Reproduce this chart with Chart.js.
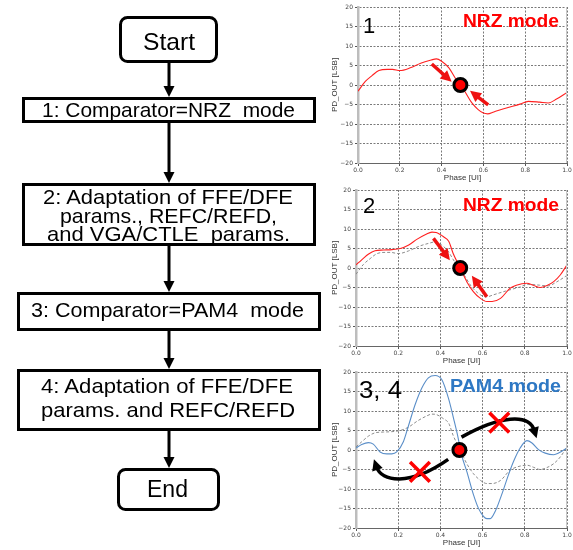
<!DOCTYPE html>
<html><head><meta charset="utf-8">
<script src="https://cdn.jsdelivr.net/npm/chart.js@4.4.1/dist/chart.umd.min.js"></script>
<style>
html,body{margin:0;padding:0;background:#fff;overflow:hidden;width:573px;height:550px;}
canvas{position:absolute;}
svg{position:absolute;left:0;top:0;}
svg text{font-family:"Liberation Sans",Arial,sans-serif;white-space:pre;}
</style></head>
<body>
<canvas id="c1" width="253" height="185" style="left:320px;top:0px"></canvas>
<canvas id="c2" width="253" height="185" style="left:320px;top:183px"></canvas>
<canvas id="c3" width="253" height="185" style="left:320px;top:365px"></canvas>
<svg width="573" height="550" xmlns="http://www.w3.org/2000/svg">
  <g fill="none" stroke="#000" stroke-width="3">
    <rect x="120.5" y="17.5" width="96" height="44" rx="7"/>
    <rect x="23.5" y="98.5" width="291" height="23"/>
    <rect x="23.5" y="184.5" width="291" height="60"/>
    <rect x="18.5" y="293.5" width="301" height="36"/>
    <rect x="18.5" y="370.5" width="301" height="59"/>
    <rect x="118.5" y="469.5" width="100" height="40" rx="7"/>
    <line x1="169" y1="63" x2="169" y2="89"/>
    <line x1="169" y1="123" x2="169" y2="175"/>
    <line x1="169" y1="246" x2="169" y2="284"/>
    <line x1="169" y1="331" x2="169" y2="361"/>
    <line x1="169" y1="431" x2="169" y2="460"/>
  </g>
  <g fill="#000">
    <polygon points="163.5,86 174.5,86 169,97"/>
    <polygon points="163.5,172 174.5,172 169,183"/>
    <polygon points="163.5,281 174.5,281 169,292"/>
    <polygon points="163.5,358 174.5,358 169,369"/>
    <polygon points="163.5,457 174.5,457 169,468"/>
  </g>
  <g fill="#000" text-anchor="middle" font-size="21">
    <text x="169" y="50" font-size="24" textLength="52" lengthAdjust="spacingAndGlyphs">Start</text>
    <text x="168.5" y="116.5" textLength="253" lengthAdjust="spacingAndGlyphs">1: Comparator=NRZ  mode</text>
    <text x="168" y="204" textLength="250" lengthAdjust="spacingAndGlyphs">2: Adaptation of FFE/DFE</text>
    <text x="168.5" y="222.5" textLength="217" lengthAdjust="spacingAndGlyphs">params., REFC/REFD,</text>
    <text x="168.5" y="241" textLength="243" lengthAdjust="spacingAndGlyphs">and VGA/CTLE  params.</text>
    <text x="167.5" y="317" textLength="273" lengthAdjust="spacingAndGlyphs">3: Comparator=PAM4  mode</text>
    <text x="167" y="393" textLength="252" lengthAdjust="spacingAndGlyphs">4: Adaptation of FFE/DFE</text>
    <text x="168" y="416.5" textLength="254" lengthAdjust="spacingAndGlyphs">params. and REFC/REFD</text>
    <text x="167.5" y="497" font-size="23" textLength="41" lengthAdjust="spacingAndGlyphs">End</text>
  </g>
  <g>
    <text x="363" y="33" font-size="22" fill="#000">1</text>
    <text x="463" y="26.5" font-size="19" font-weight="bold" fill="#ff0000" textLength="96" lengthAdjust="spacingAndGlyphs">NRZ mode</text>
    <text x="363" y="213" font-size="22" fill="#000">2</text>
    <text x="463" y="210.5" font-size="19" font-weight="bold" fill="#ff0000" textLength="96" lengthAdjust="spacingAndGlyphs">NRZ mode</text>
    <text x="359" y="398" font-size="24" fill="#000" textLength="43" lengthAdjust="spacingAndGlyphs">3, 4</text>
    <text x="450" y="392" font-size="19" font-weight="bold" fill="#2e78c4" textLength="111" lengthAdjust="spacingAndGlyphs">PAM4 mode</text>
  </g>
</svg>
<script>
// ---------- data ----------
const xTicks = [0, 0.2, 0.4, 0.6, 0.8, 1.0];
const yTicks = [-20, -15, -10, -5, 0, 5, 10, 15, 20];

// step 1: initial NRZ phase-detector output
const phaseInit = [0, 0.035, 0.067, 0.1, 0.14, 0.165, 0.2, 0.25, 0.3, 0.35, 0.375, 0.4, 0.435, 0.465, 0.49, 0.515, 0.545, 0.575, 0.6, 0.62, 0.65, 0.71, 0.775, 0.815, 0.87, 0.91, 0.95, 1.0];
const pdInit    = [-1.6, 0.9, 2.4, 3.7, 4.0, 4.0, 3.7, 4.4, 5.6, 6.4, 6.7, 6.1, 4.4, 1.8, 0, -2.0, -4.6, -6.3, -7.2, -7.4, -6.9, -5.9, -4.9, -4.2, -4.4, -4.6, -3.6, -1.9];

// step 2: NRZ after adaptation
const phaseNrz = [0, 0.027, 0.06, 0.09, 0.13, 0.17, 0.21, 0.25, 0.29, 0.33, 0.36, 0.38, 0.415, 0.44, 0.46, 0.494, 0.525, 0.557, 0.59, 0.62, 0.645, 0.685, 0.73, 0.76, 0.81, 0.84, 0.873, 0.905, 0.937, 0.968, 1.0];
const pdNrz    = [0.8, 2.1, 3.6, 4.4, 4.6, 4.7, 5.0, 5.9, 7.4, 8.6, 9.2, 9.1, 8.0, 6.8, 3.8, 0, -3.5, -6.1, -7.8, -8.6, -8.6, -7.8, -5.2, -4.4, -3.9, -4.4, -5.0, -4.5, -3.5, -1.8, 0.8];

// steps 3,4: PAM4 mode
const phasePam4 = [0, 0.027, 0.059, 0.082, 0.114, 0.146, 0.17, 0.193, 0.225, 0.248, 0.28, 0.312, 0.343, 0.375, 0.407, 0.438, 0.462, 0.481, 0.5, 0.525, 0.557, 0.58, 0.604, 0.62, 0.636, 0.66, 0.69, 0.723, 0.747, 0.778, 0.81, 0.834, 0.865, 0.897, 0.937, 0.96, 1.0];
const pdPam4    = [0.5, 1.4, 1.9, 1.5, -0.5, -1.0, -1.0, -0.5, 2.2, 6.1, 11.6, 15.9, 18.5, 19.1, 18.0, 13.3, 8.2, 3.9, -1.2, -5.5, -11.5, -14.9, -17.0, -17.6, -17.6, -15.7, -11.5, -6.3, -2.9, 0.5, 2.4, 1.8, 0.1, -0.8, -1.2, -0.8, 0.5];

// lock points (phase, PD_OUT)
const lock1 = [0.49, 0];
const lock2 = [0.494, 0];
const lock3 = [0.49, 0];

// failed-direction marks in PAM4 mode
const failPhase = [0.303, 0.679];
const failPd    = [-5.6, 7.0];

// annotation arrows (data coordinates: [phase, PD_OUT])
const arrows1 = [[[0.353, 5.4], [0.448, 0.85]], [[0.623, -5.1], [0.536, -1.5]]];
const arrows2 = [[[0.367, 7.6], [0.445, 2.0]], [[0.62, -7.35], [0.549, -2.0]]];
const curves3 = [
  [[0.437, -2.4], [0.25, -9.5], [0.12, -8.0], [0.085, -2.4]],
  [[0.50, 3.3], [0.68, 8.8], [0.82, 9.5], [0.856, 3.0]]
];

// ---------- helpers ----------
const pts = (xs, ys) => xs.map((x, i) => ({x: x, y: ys[i]}));

function head(ctx, x, y, ang, color) {
  const L = 11, W = 5.5;
  ctx.save();
  ctx.fillStyle = color;
  ctx.translate(x, y); ctx.rotate(ang);
  ctx.beginPath(); ctx.moveTo(0, 0); ctx.lineTo(-L, -W); ctx.lineTo(-L, W); ctx.closePath(); ctx.fill();
  ctx.restore();
}

const annotPlugin = {
  id: 'annot',
  afterDatasetDraw(chart, args, opts) {
    if (args.index !== opts.after) return;
    const ctx = chart.ctx, xs = chart.scales.x, ys = chart.scales.y;
    const P = p => [xs.getPixelForValue(p[0]), ys.getPixelForValue(p[1])];
    ctx.save();
    ctx.lineCap = 'butt';
    (opts.straight || []).forEach(a => {
      const [x0, y0] = P(a[0]), [x1, y1] = P(a[1]);
      const ang = Math.atan2(y1 - y0, x1 - x0);
      ctx.strokeStyle = opts.color; ctx.lineWidth = 3.5;
      ctx.beginPath(); ctx.moveTo(x0, y0);
      ctx.lineTo(x1 - 9 * Math.cos(ang), y1 - 9 * Math.sin(ang)); ctx.stroke();
      head(ctx, x1, y1, ang, opts.color);
    });
    (opts.curved || []).forEach(c => {
      const q = c.map(P);
      const ang = Math.atan2(q[3][1] - q[2][1], q[3][0] - q[2][0]);
      const ex = q[3][0] - 8 * Math.cos(ang), ey = q[3][1] - 8 * Math.sin(ang);
      ctx.strokeStyle = opts.color; ctx.lineWidth = 3.5;
      ctx.beginPath(); ctx.moveTo(q[0][0], q[0][1]);
      ctx.bezierCurveTo(q[1][0], q[1][1], q[2][0], q[2][1], ex, ey); ctx.stroke();
      head(ctx, q[3][0], q[3][1], ang, opts.color);
    });
    ctx.restore();
  },
  afterDraw(chart) {
    const a = chart.chartArea, ctx = chart.ctx;
    ctx.save(); ctx.strokeStyle = '#c8c8c8'; ctx.lineWidth = 1;
    ctx.beginPath(); ctx.moveTo(a.right - 0.5, a.top); ctx.lineTo(a.right - 0.5, a.bottom); ctx.stroke();
    ctx.restore();
  }
};

function makeChart(id, yWidth, datasets, annot) {
  return new Chart(document.getElementById(id), {
    type: 'line',
    data: { datasets: datasets },
    plugins: [annotPlugin],
    options: {
      responsive: false, animation: false, devicePixelRatio: 1,
      layout: { autoPadding: false, padding: { top: 7, right: 6, left: 0, bottom: 0 } },
      plugins: { legend: { display: false }, tooltip: { enabled: false }, annot: annot },
      elements: { point: { radius: 0 } },
      scales: {
        x: {
          type: 'linear', min: 0, max: 1,
          afterBuildTicks: s => { s.ticks = xTicks.map(v => ({ value: v })); },
          afterFit: s => { s.height = 22; s.paddingLeft = 0; s.paddingRight = 0; },
          ticks: { callback: v => v.toFixed(1), font: { family: 'DejaVu Sans', size: 6 }, color: '#444', padding: 1, maxRotation: 0, autoSkip: false },
          grid: { color: '#7a7a7a', lineWidth: 1, drawTicks: true, tickLength: 3, tickColor: '#555' },
          border: { display: true, color: '#666', width: 1, dash: [2, 1.5] },
          title: { display: true, text: 'Phase [UI]', font: { family: 'Liberation Sans', size: 8 }, color: '#333', padding: { top: 0, bottom: 2 } }
        },
        y: {
          type: 'linear', min: -20, max: 20,
          afterBuildTicks: s => { s.ticks = yTicks.map(v => ({ value: v })); },
          afterFit: s => { s.width = yWidth; },
          ticks: { callback: v => (v < 0 ? '\u2212' + Math.abs(v) : String(v)), font: { family: 'DejaVu Sans', size: 6 }, color: '#444', padding: 2, autoSkip: false },
          grid: { color: '#7a7a7a', lineWidth: 1, drawTicks: true, tickLength: 3, tickColor: '#555' },
          border: { display: true, color: '#bdbdbd', width: 2.5, dash: [2, 1.5] },
          title: { display: true, text: 'PD_OUT [LSB]', font: { family: 'Liberation Sans', size: 8 }, color: '#333', padding: { top: 9.5, bottom: 0 } }
        }
      }
    }
  });
}

const markerDs = p => ({ data: [{ x: p[0], y: p[1] }], showLine: false, pointRadius: 6.5, pointHoverRadius: 6.5,
  pointBackgroundColor: '#ff0000', pointBorderColor: '#000', pointBorderWidth: 3, borderColor: '#000' });
const solidDs = (xs, ys, c) => ({ data: pts(xs, ys), borderColor: c, borderWidth: 1.1, fill: false, cubicInterpolationMode: 'monotone', pointRadius: 0 });
const dashDs = (xs, ys) => ({ data: pts(xs, ys), borderColor: '#8c8c8c', borderWidth: 1, borderDash: [3, 2], fill: false, cubicInterpolationMode: 'monotone', pointRadius: 0 });

makeChart('c1', 38, [
  markerDs(lock1),
  solidDs(phaseInit, pdInit, '#ff2020')
], { after: 1, color: '#ee1111', straight: arrows1 });

makeChart('c2', 36, [
  markerDs(lock2),
  solidDs(phaseNrz, pdNrz, '#ff2020'),
  dashDs(phaseInit, pdInit)
], { after: 1, color: '#ee1111', straight: arrows2 });

makeChart('c3', 36, [
  markerDs(lock3),
  { data: pts(failPhase, failPd), showLine: false, pointStyle: 'crossRot', pointRadius: 14, pointHoverRadius: 14,
    pointBorderColor: '#ff0000', pointBorderWidth: 3.5, borderColor: '#ff0000' },
  solidDs(phasePam4, pdPam4, '#5a8ec8'),
  dashDs(phaseNrz, pdNrz)
], { after: 2, color: '#000', curved: curves3 });
</script>
</body></html>
